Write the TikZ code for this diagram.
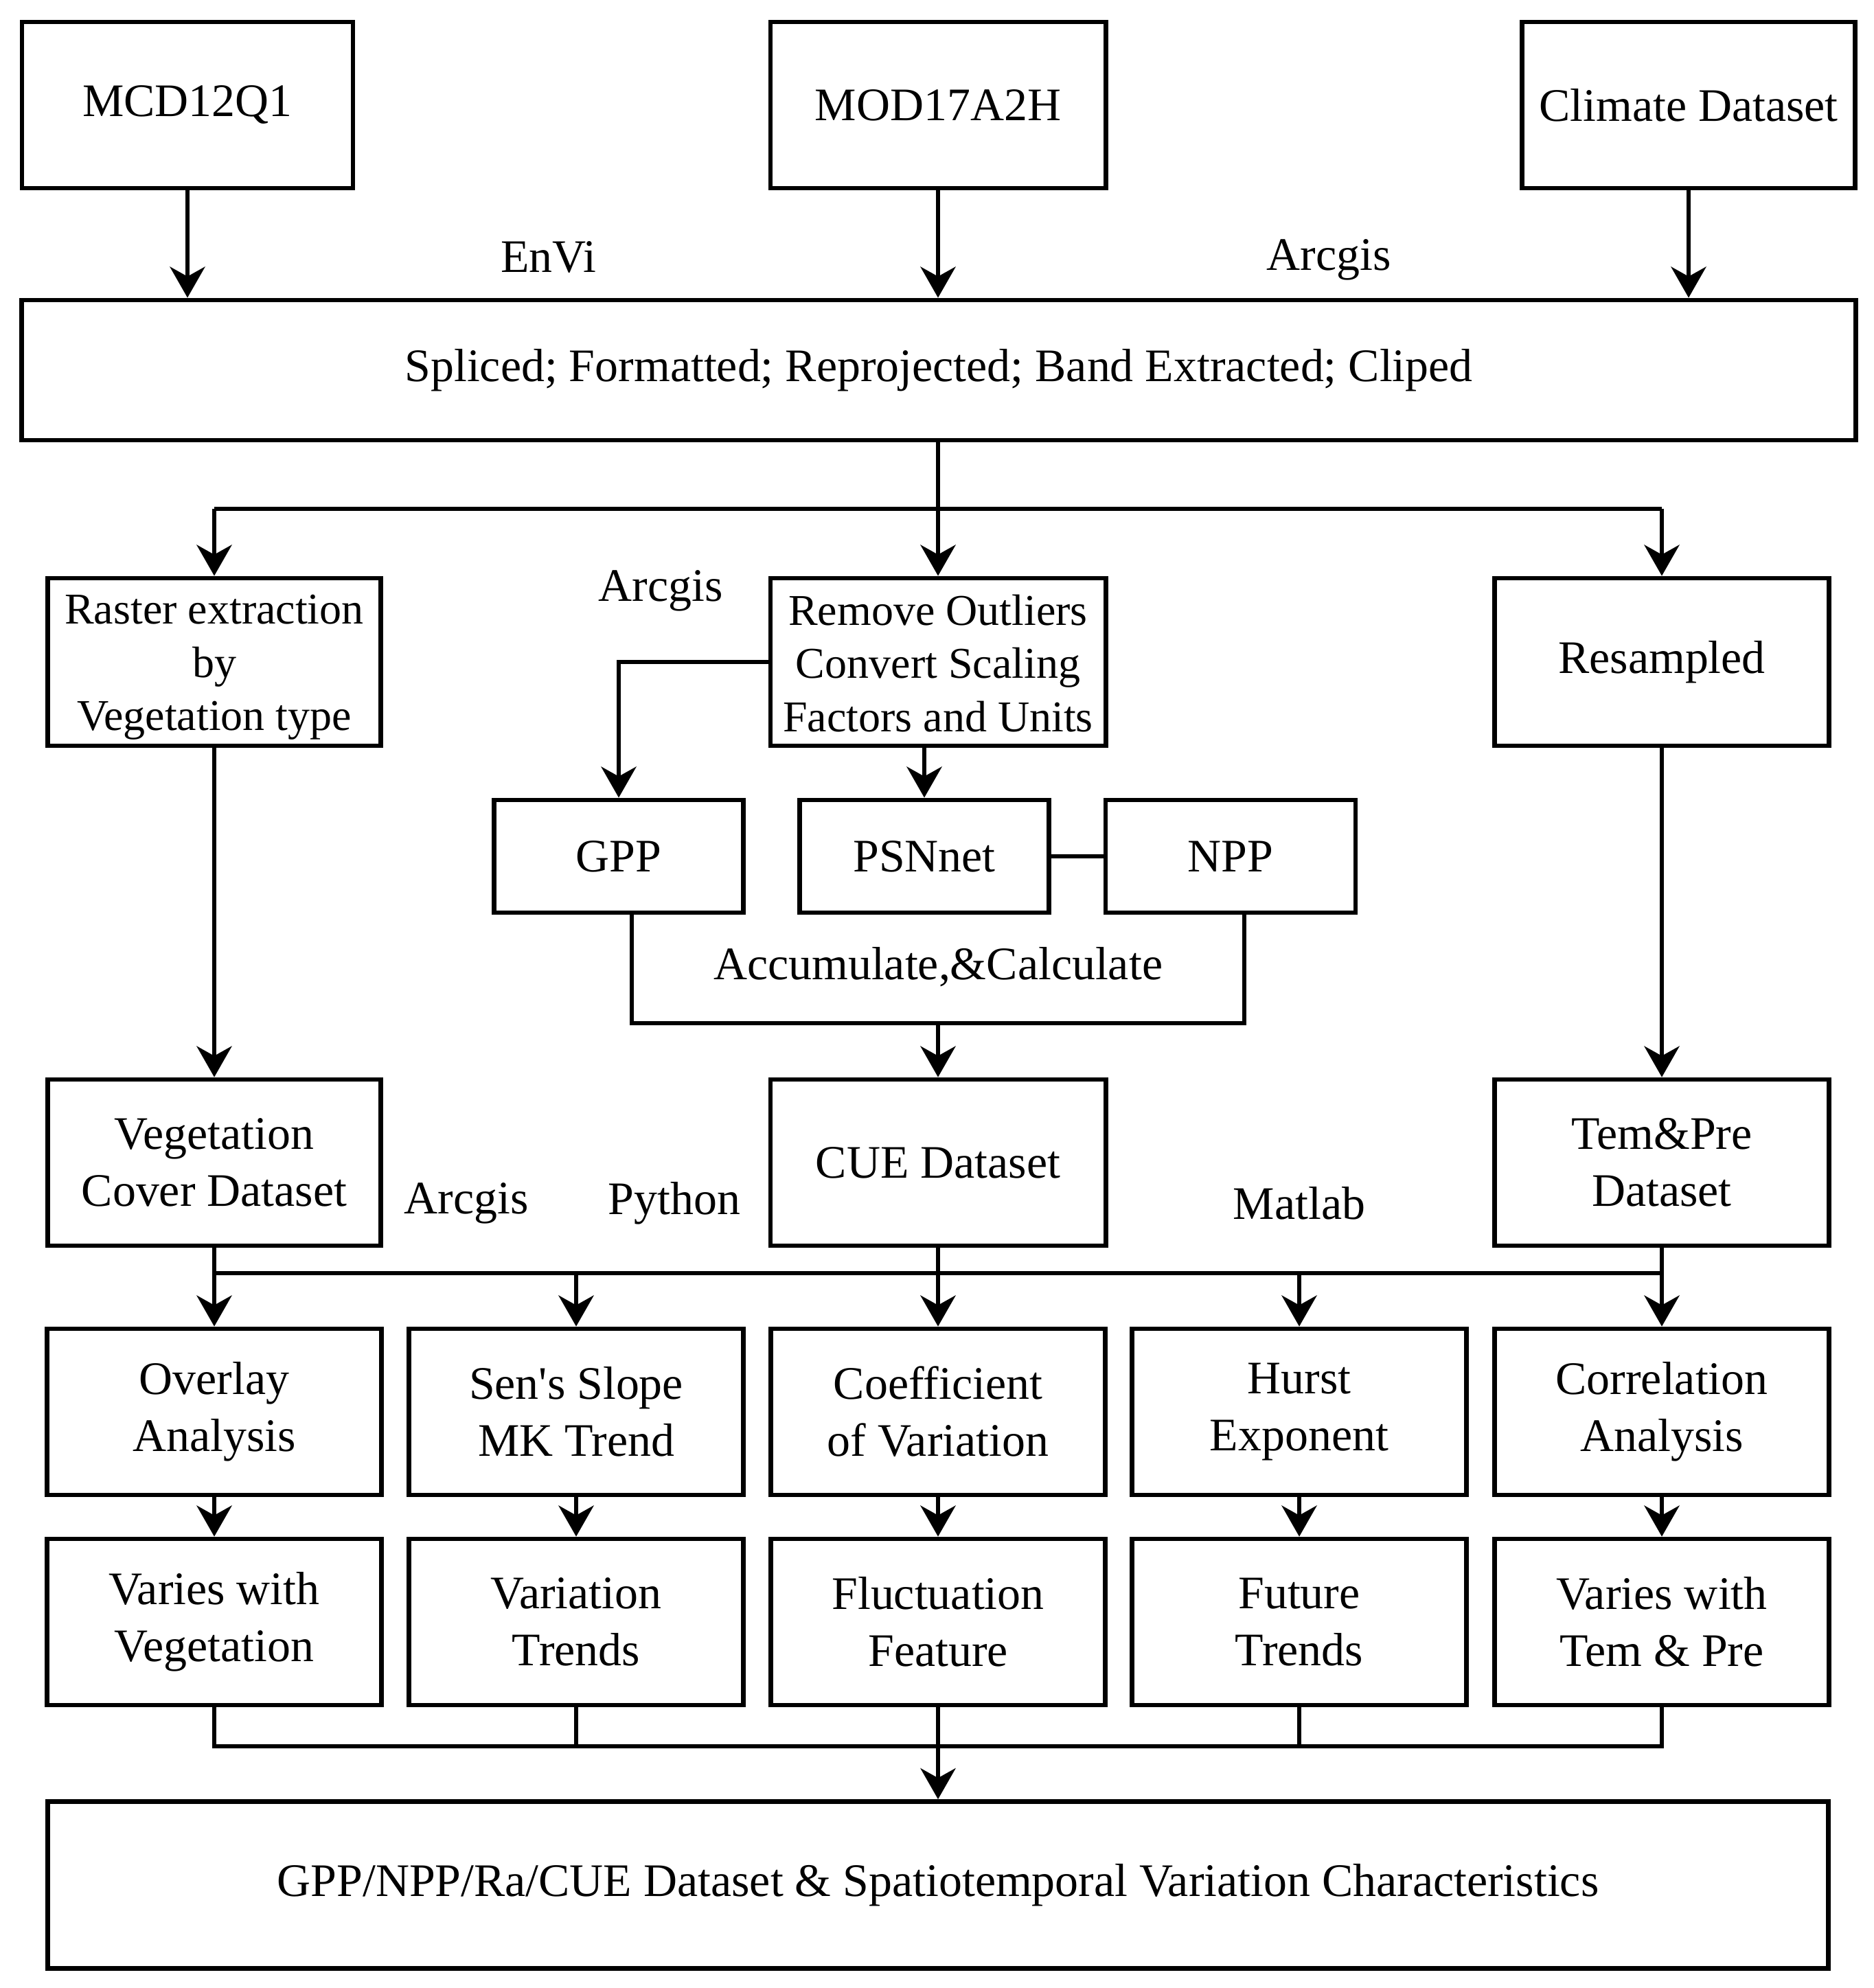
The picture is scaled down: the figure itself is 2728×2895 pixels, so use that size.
\documentclass[tikz,border=0pt]{standalone}
\usepackage{fontspec}
\setmainfont{Liberation Serif}
\usetikzlibrary{arrows.meta}

\begin{document}
\begin{tikzpicture}[x=0.01cm,y=-0.01cm,
	box/.style={draw=black,line width=1.9pt,align=center,inner sep=2pt,font=\fontsize{19.3pt}{23.6pt}\selectfont},
	smallbox/.style={box,font=\fontsize{18.2pt}{22pt}\selectfont},
	stage/.style={box,minimum width=4.87cm,minimum height=2.42cm},
	tool/.style={font=\fontsize{19.3pt}{23.6pt}\selectfont},
	arr/.style={line width=1.9pt,-{Stealth[length=12.8pt,width=14.5pt,inset=4pt]}},
	link/.style={line width=1.9pt}]
	\useasboundingbox (0,0) rectangle (2728,2895);
	% input data
	\node[box,minimum width=4.82cm,minimum height=2.42cm] (mcd) at (273,153) {MCD12Q1};
	\node[box,minimum width=4.88cm,minimum height=2.42cm] (mod) at (1366,153) {MOD17A2H};
	\node[box,minimum width=4.85cm,minimum height=2.42cm] (clim) at (2459,153) {Climate Dataset};
	\node[box,minimum width=26.70cm,minimum height=2.04cm] (prep) at (1367,539) {Spliced; Formatted; Reprojected; Band Extracted; Cliped};
	\draw[arr] (mcd) -- (mcd |- prep.north);
	\draw[arr] (mod) -- (mod |- prep.north);
	\draw[arr] (clim) -- (clim |- prep.north);
	\node[tool] (envi) at (799,375) {EnVi};
	\node[tool] (arcA) at (1935,378) {Arcgis};
	% preprocessing branches
	\coordinate (split) at (1366,741);
	\node[smallbox,minimum width=4.85cm,minimum height=2.44cm] (raster) at (312,964) {\rule{0pt}{0.58cm}Raster extraction\\by\\Vegetation type};
	\node[smallbox,minimum width=4.88cm,minimum height=2.44cm] (clean) at (1366,964) {\rule{0pt}{0.48cm}Remove Outliers\\Convert Scaling\\Factors and Units};
	\node[box,minimum width=4.87cm,minimum height=2.44cm] (resamp) at (2420,964) {Resampled};
	\draw[link] (prep.south -| split) -- (split);
	\draw[link] (raster |- split) -- (resamp |- split);
	\draw[arr] (raster |- split) -- (raster.north);
	\draw[arr] (split) -- (clean.north);
	\draw[arr] (resamp |- split) -- (resamp.north);
	\node[tool] (arcB) at (962,860) {Arcgis};
	% carbon products
	\node[box,minimum width=3.63cm,minimum height=1.64cm] (gpp) at (901,1247) {GPP};
	\node[box,minimum width=3.63cm,minimum height=1.64cm] (psn) at (1346,1247) {PSNnet};
	\node[box,minimum width=3.64cm,minimum height=1.64cm] (npp) at (1792,1247) {NPP};
	\draw[arr] (clean.west) -| (gpp.north);
	\draw[arr] (clean.south -| psn) -- (psn.north);
	\draw[link] (psn) -- (npp);
	\coordinate (acc) at (1366,1490);
	\draw[link] ([xshift=0.19cm]gpp.south) |- (acc) -| ([xshift=0.2cm]npp.south);
	\node[tool] (calc) at (1366,1408) {Accumulate,\&Calculate};
	% datasets
	\node[stage,minimum width=4.85cm] (vegc) at (312,1693) {Vegetation\\Cover Dataset};
	\node[stage,minimum width=4.88cm] (cue) at (1366,1693) {CUE Dataset};
	\node[stage] (tp) at (2420,1693) {Tem\&Pre\\Dataset};
	\draw[arr] (raster) -- (vegc);
	\draw[arr] (acc) -- (cue.north);
	\draw[arr] (resamp) -- (tp);
	\node[tool] (arcC) at (679,1752) {Arcgis};
	\node[tool] (python) at (982,1752) {Python};
	\node[tool] (matlab) at (1892,1752) {Matlab};
	% analysis methods
	\coordinate (dist) at (1366,1854);
	\node[stage] (overlay) at (312,2056) {Overlay\\Analysis};
	\node[stage] (sen) at (839,2056) {Sen\textquotesingle s Slope\\MK Trend};
	\node[stage] (cv) at (1366,2056) {Coefficient\\of Variation};
	\node[stage] (hurst) at (1892,2056) {Hurst\\Exponent};
	\node[stage] (corr) at (2420,2056) {Correlation\\Analysis};
	\draw[link] (vegc.south) -- (vegc |- dist) -- (tp |- dist) -- (tp.south);
	\draw[link] (cue.south) -- (dist);
	\draw[arr] (overlay |- dist) -- (overlay.north);
	\draw[arr] (sen |- dist) -- (sen.north);
	\draw[arr] (dist) -- (cv.north);
	\draw[arr] (hurst |- dist) -- (hurst.north);
	\draw[arr] (corr |- dist) -- (corr.north);
	% results
	\node[stage] (vegres) at (312,2362) {Varies with\\Vegetation};
	\node[stage] (trend) at (839,2362) {Variation\\Trends};
	\node[stage] (fluct) at (1366,2362) {Fluctuation\\Feature};
	\node[stage] (future) at (1892,2362) {Future\\Trends};
	\node[stage] (tpres) at (2420,2362) {Varies with\\Tem \& Pre};
	\draw[arr] (overlay) -- (vegres);
	\draw[arr] (sen) -- (trend);
	\draw[arr] (cv) -- (fluct);
	\draw[arr] (hurst) -- (future);
	\draw[arr] (corr) -- (tpres);
	\coordinate (coll) at (1366,2543);
	\node[box,minimum width=25.92cm,minimum height=2.43cm] (final) at (1366,2745) {GPP/NPP/Ra/CUE Dataset \& Spatiotemporal Variation Characteristics};
	\draw[link] (vegres.south) -- (vegres |- coll) -- (tpres |- coll) -- (tpres.south);
	\draw[link] (trend.south) -- (trend |- coll);
	\draw[link] (future.south) -- (future |- coll);
	\draw[arr] (fluct.south) -- (final.north);
\end{tikzpicture}
\end{document}
